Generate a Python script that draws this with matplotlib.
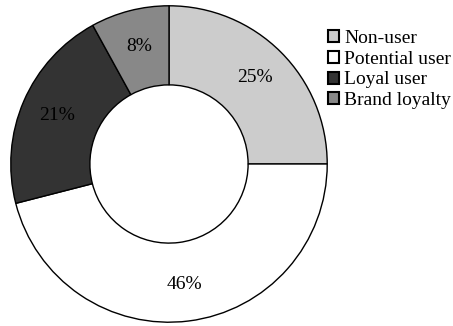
import matplotlib
matplotlib.use("Agg")
import matplotlib.pyplot as plt
import numpy as np

categories = ["Non-user", "Potential user", "Loyal user", "Brand loyalty"]
values = [25, 46, 21, 8]
colors = ["#cccccc", "#ffffff", "#333333", "#888888"]

plt.rcParams['font.family'] = ['Liberation Serif', 'DejaVu Serif']

fig = plt.figure(figsize=(4.53, 3.26), dpi=100)
ax = fig.add_axes([10/453, 3/326, 318/453, 318/326])
wedges, texts = ax.pie(values, colors=colors, startangle=90, counterclock=False,
                       radius=1,
                       wedgeprops=dict(width=0.5, edgecolor='black', linewidth=1.0))
for w, v in zip(wedges, values):
    ang = np.deg2rad((w.theta1 + w.theta2) / 2)
    ax.text(0.77 * np.cos(ang), 0.77 * np.sin(ang), f"{v}%", ha='center', va='center',
            fontsize=14, color='black')
ax.set_xlim(-1.005, 1.005)
ax.set_ylim(-1.005, 1.005)
ax.set_aspect('equal')
ax.axis('off')

leg = fig.legend(wedges, categories, loc='upper left', bbox_to_anchor=(327.5/453, 1 - 30/326),
                 frameon=False, fontsize=14, handlelength=0.57, handleheight=0.57,
                 handletextpad=0.3, labelspacing=0.19, borderaxespad=0, borderpad=0)
for h in leg.legend_handles:
    h.set_edgecolor('black')
    h.set_linewidth(1.5)

fig.savefig("out.png", dpi=100)
